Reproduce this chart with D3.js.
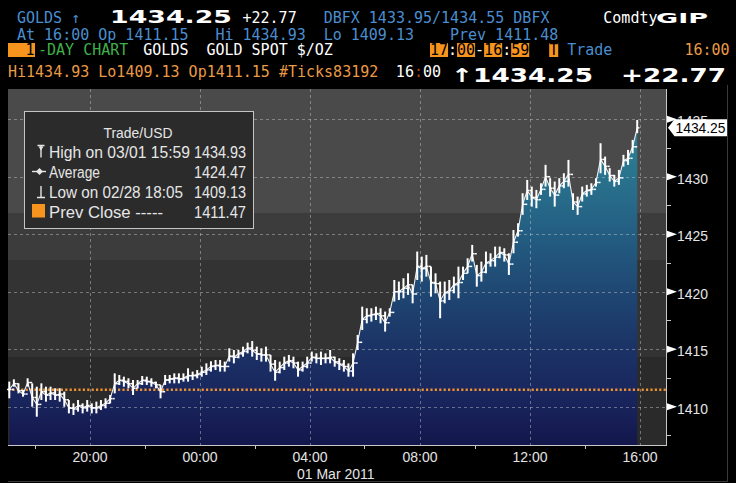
<!DOCTYPE html>
<html><head><meta charset="utf-8">
<script src="https://cdn.jsdelivr.net/npm/d3@7"></script>
<style>html,body{margin:0;padding:0;background:#000;overflow:hidden}svg{display:block}</style>
</head><body>
<svg id="c" width="736" height="483"></svg>
<script>
// ---------------- DATA ----------------
const barStart = "2011-02-28T17:00";
const barMinutes = 10;
const highs = [
1412.18,1412.38,1412.03,1411.45,1412.47,1412.03,1411.74,1412.03,1411.74,1411.74,
1411.60,1411.60,1411.31,1410.58,1410.29,1410.58,1410.29,1410.58,1410.29,1410.44,
1410.58,1410.73,1411.02,1412.90,1412.76,1412.61,1412.47,1412.32,1412.32,1412.67,
1412.61,1412.47,1412.18,1411.89,1412.76,1412.76,1412.90,1412.90,1412.90,1413.34,
1413.05,1413.19,1413.48,1413.77,1413.95,1414.06,1414.06,1413.92,1415.08,1414.93,
1414.93,1415.22,1415.57,1415.71,1415.22,1415.08,1415.22,1414.50,1414.06,1413.92,
1414.35,1414.50,1414.35,1413.92,1413.92,1414.35,1414.79,1414.64,1414.79,1414.64,
1414.93,1414.35,1414.21,1414.06,1413.77,1414.64,1416.24,1418.70,1418.56,1418.56,
1418.70,1418.56,1418.27,1418.56,1421.02,1420.88,1421.17,1421.60,1420.59,1423.49,
1423.05,1423.20,1422.18,1421.60,1420.88,1420.88,1421.02,1421.31,1422.18,1422.18,
1422.91,1424.07,1422.33,1422.62,1423.49,1423.34,1423.92,1423.92,1423.78,1423.34,
1425.37,1425.95,1428.56,1429.72,1429.14,1428.85,1429.43,1431.03,1429.87,1429.58,
1429.87,1430.30,1431.46,1428.56,1428.27,1429.14,1429.29,1429.43,1429.87,1432.91,
1431.75,1430.74,1430.16,1430.59,1431.90,1432.33,1433.20,1434.93];
const lows = [
1410.73,1411.74,1411.16,1410.87,1411.74,1410.00,1409.13,1410.58,1410.44,1410.58,
1410.58,1410.44,1410.00,1409.42,1409.28,1409.57,1409.42,1409.57,1409.42,1409.42,
1409.71,1409.86,1410.29,1411.16,1411.89,1411.74,1411.60,1411.02,1411.60,1411.89,
1411.89,1411.74,1411.60,1410.73,1411.89,1412.03,1412.03,1412.03,1412.18,1412.18,
1412.32,1412.47,1412.61,1412.76,1413.05,1413.19,1413.05,1413.05,1413.92,1413.77,
1414.21,1414.35,1414.64,1414.35,1414.06,1413.92,1413.92,1413.05,1412.26,1412.90,
1413.19,1413.48,1413.34,1412.61,1413.05,1413.34,1413.92,1413.77,1413.63,1413.77,
1413.77,1413.48,1413.19,1413.05,1412.61,1412.61,1414.93,1416.67,1417.25,1417.40,
1417.54,1417.25,1416.53,1417.83,1419.14,1419.28,1419.43,1419.72,1418.99,1421.02,
1420.88,1421.31,1419.57,1419.86,1417.69,1418.99,1419.28,1419.86,1419.43,1421.02,
1421.60,1422.62,1420.44,1420.88,1421.60,1422.18,1422.18,1422.91,1422.62,1421.46,
1423.34,1424.79,1426.68,1427.98,1427.40,1427.26,1428.42,1429.14,1428.27,1427.40,
1428.56,1429.00,1429.14,1427.11,1426.68,1427.84,1428.27,1428.42,1429.14,1430.30,
1430.16,1429.58,1429.14,1429.29,1430.88,1431.03,1432.04,1433.78];
const closes = [
1411.5,1412.0,1411.4,1411.1,1412.1,1410.8,1410.2,1411.3,1411.0,1411.2,
1411.0,1411.1,1410.6,1409.9,1409.8,1410.1,1409.9,1410.1,1409.9,1409.9,
1410.1,1410.3,1410.7,1412.0,1412.3,1412.2,1412.0,1411.6,1412.0,1412.3,
1412.2,1412.1,1411.9,1411.3,1412.3,1412.4,1412.5,1412.4,1412.5,1412.7,
1412.7,1412.8,1413.0,1413.2,1413.5,1413.6,1413.5,1413.5,1414.4,1414.3,
1414.6,1414.8,1415.1,1414.9,1414.6,1414.5,1414.5,1413.7,1413.0,1413.4,
1413.8,1414.0,1413.8,1413.2,1413.5,1413.8,1414.3,1414.2,1414.2,1414.2,
1414.3,1413.9,1413.7,1413.5,1413.1,1413.8,1415.6,1417.6,1417.9,1418.0,
1418.1,1417.9,1417.3,1418.2,1420.0,1420.0,1420.3,1420.6,1419.8,1422.2,
1422.0,1422.2,1420.8,1420.7,1419.2,1419.9,1420.1,1420.6,1420.8,1421.6,
1422.2,1423.3,1421.4,1421.7,1422.5,1422.7,1423.0,1423.4,1423.2,1422.4,
1424.3,1425.3,1427.6,1428.8,1428.2,1428.0,1428.9,1430.0,1429.0,1428.4,
1429.2,1429.6,1430.2,1427.8,1427.4,1428.5,1428.8,1428.9,1429.5,1431.5,
1430.9,1430.1,1429.6,1429.9,1431.4,1431.6,1432.6,1434.25];
const yTicks = [1410, 1415, 1420, 1425, 1430, 1435];
const yMinorTicks = [1407.5, 1412.5, 1417.5, 1422.5, 1427.5, 1432.5];
const xTickTimes = ["2011-02-28T20:00","2011-03-01T00:00","2011-03-01T04:00","2011-03-01T08:00","2011-03-01T12:00","2011-03-01T16:00"];
const xMinorTimes = ["2011-02-28T18:00","2011-02-28T22:00","2011-03-01T02:00","2011-03-01T06:00","2011-03-01T10:00","2011-03-01T14:00"];
const domainTimes = ["2011-02-28T17:00","2011-03-01T17:00"];
const dateLabel = "01 Mar 2011";
const prevClose = 1411.47;
const lastPrice = 1434.25;
const legendTitle = "Trade/USD";
const legendLabels = ["High on 03/01 15:59", "Average", "Low on 02/28 18:05", "Prev Close -----"];
const legendValues = ["1434.93", "1424.47", "1409.13", "1411.47"];

// ---------------- SETUP ----------------
const svg = d3.select("#c");
const W = 736, H = 483;
const P = {left: 8, right: 667, top: 89, bottom: 445};
const parse = d3.timeParse("%Y-%m-%dT%H:%M");
const t0 = parse(barStart);
const x = d3.scaleTime().domain(domainTimes.map(parse)).range([7, 667]);
const y = d3.scaleLinear().domain([1410, 1435]).range([406.7, 119.2]);

svg.append("rect").attr("width", W).attr("height", H).attr("fill", "#000");

const mono = "'DejaVu Sans Mono', monospace";
const sans = "'Liberation Sans', Arial, sans-serif";
function T(g, xp, yp, s, fill, o = {}) {
  const e = g.append("text").attr("x", xp).attr("y", yp).text(s).attr("fill", fill)
    .style("font-family", o.family || mono).style("font-size", (o.size || 15) + "px")
    .style("font-weight", o.weight || "normal");
  if (o.tl) e.attr("textLength", o.tl).attr("lengthAdjust", "spacingAndGlyphs");
  if (o.anchor) e.attr("text-anchor", o.anchor);
  return e;
}

// ---------------- HEADER ----------------
const BLUE = "#4a8ecf", ORANGE = "#f7941e", OTXT = "#eb9a45", GREEN = "#3fb04a", WHITE = "#ffffff";
const hd = svg.append("g");
const cw = 9.02;
const c1 = i => 17 + i * cw;   // rows 1-2 grid
const c3 = i => 8 + i * cw;    // rows 3-4 grid
// Row 1
T(hd, c1(0), 22.7, "GOLDS \u2191", BLUE);
T(hd, 110, 22.7, "1434.25", WHITE, {family: "'DejaVu Sans', sans-serif", weight: "bold", size: 17.5, tl: 122});
T(hd, c1(25), 22.7, "+22.77", WHITE);
T(hd, c1(34), 22.7, "DBFX 1433.95/1434.55 DBFX", BLUE);
T(hd, c1(65), 22.7, "Comdty", WHITE);
T(hd, 656, 22.7, "GIP", WHITE, {family: "'DejaVu Sans', sans-serif", weight: "bold", size: 14, tl: 52});
// Row 2
T(hd, c1(0), 40.3, "At 16:00 Op 1411.15", BLUE);
T(hd, c1(22), 40.3, "Hi 1434.93", BLUE);
T(hd, c1(34), 40.3, "Lo 1409.13", BLUE);
T(hd, c1(48), 40.3, "Prev 1411.48", BLUE);
// Row 3
hd.append("rect").attr("x", c3(0)).attr("y", 43).attr("width", 27).attr("height", 14).attr("fill", ORANGE);
T(hd, 25.5, 55, "1", "#000");
T(hd, 38, 55, "-DAY CHART", GREEN);
T(hd, c3(15), 55, "GOLDS", WHITE);
T(hd, c3(22), 55, "GOLD SPOT $/OZ", WHITE);
const tx0 = 430;
[[0, "17"], [3, "00"], [6, "16"], [9, "59"]].forEach(([k, s]) => {
  hd.append("rect").attr("x", tx0 + k * cw).attr("y", 43).attr("width", 2 * cw).attr("height", 14).attr("fill", ORANGE);
  T(hd, tx0 + k * cw, 55, s, "#000");
});
T(hd, tx0 + 2 * cw, 55, ":", WHITE);
T(hd, tx0 + 5 * cw, 55, "-", WHITE);
T(hd, tx0 + 8 * cw, 55, ":", WHITE);
hd.append("rect").attr("x", c3(60)).attr("y", 43).attr("width", cw).attr("height", 14).attr("fill", ORANGE);
T(hd, c3(60), 55, "T", "#000");
T(hd, c3(62), 55, "Trade", BLUE);
T(hd, c3(75), 55, "16:00", OTXT);
// Row 4
T(hd, c3(0), 77.3, "Hi1434.93 Lo1409.13 Op1411.15 #Ticks83192", OTXT);
T(hd, c3(43), 77.3, "16", WHITE);
T(hd, c3(45), 77.3, ":", "#a8401a");
T(hd, c3(46), 77.3, "00", WHITE);
T(hd, 451, 81.7, "\u21911434.25", WHITE, {family: "'DejaVu Sans', sans-serif", weight: "bold", size: 19, tl: 142});
T(hd, 621, 81.7, "+22.77", WHITE, {family: "'DejaVu Sans', sans-serif", weight: "bold", size: 19, tl: 105});

// ---------------- PLOT BACKGROUND ----------------
const bands = [[89, 213, "#4a4a4a"], [213, 260, "#3c3c3c"], [260, 357, "#333333"], [357, 445, "#2a2a2a"]];
svg.append("g").selectAll("rect").data(bands).join("rect")
  .attr("x", P.left).attr("width", P.right - P.left)
  .attr("y", d => d[0]).attr("height", d => d[1] - d[0]).attr("fill", d => d[2]);

// ---------------- AREA FILL ----------------
const defs = svg.append("defs");
const grad = defs.append("linearGradient").attr("id", "fillg")
  .attr("gradientUnits", "userSpaceOnUse").attr("x1", 0).attr("x2", 0).attr("y1", 445).attr("y2", 120);
[[0, "#13174b"], [0.12, "#18235b"], [0.3, "#1b3366"], [0.48, "#1f4873"], [0.66, "#245f83"], [0.84, "#29748e"], [1, "#2d8399"]]
  .forEach(([o, c]) => grad.append("stop").attr("offset", o).attr("stop-color", c));

const bars = highs.map((h, i) => ({
  t: d3.timeMinute.offset(t0, barMinutes * i + barMinutes / 2),
  hi: h, lo: lows[i], c: closes[i], o: i > 0 ? closes[i - 1] : closes[0]
}));

svg.append("path").datum(bars)
  .attr("d", d3.area().x(d => x(d.t)).y0(P.bottom).y1(d => y(d.c)))
  .attr("fill", "url(#fillg)");

// ---------------- GRID ----------------
const grid = svg.append("g").attr("stroke", "rgba(205,205,205,0.45)").attr("stroke-dasharray", "3,3").attr("stroke-width", 1);
grid.selectAll("line.h").data(yTicks).join("line").attr("class", "h")
  .attr("x1", P.left).attr("x2", P.right).attr("y1", d => Math.round(y(d)) + 0.5).attr("y2", d => Math.round(y(d)) + 0.5);
grid.selectAll("line.v").data(xTickTimes.map(parse)).join("line").attr("class", "v")
  .attr("x1", d => Math.round(x(d)) + 0.5).attr("x2", d => Math.round(x(d)) + 0.5).attr("y1", P.top).attr("y2", P.bottom + 3);

// prev close dotted line
svg.append("line").attr("x1", P.left).attr("x2", P.right)
  .attr("y1", y(prevClose)).attr("y2", y(prevClose))
  .attr("stroke", "#ee9030").attr("stroke-width", 2.4).attr("stroke-dasharray", "2.2,2.2");

// ---------------- BARS ----------------
svg.append("path").datum(bars)
  .attr("d", d3.line().x(d => x(d.t)).y(d => y(d.c)))
  .attr("fill", "none").attr("stroke", "#f0f0f0").attr("stroke-width", 1.1);
const bg = svg.append("g").attr("stroke", "#ffffff");
bg.selectAll("line.r").data(bars).join("line").attr("class", "r")
  .attr("x1", d => x(d.t)).attr("x2", d => x(d.t))
  .attr("y1", d => y(d.hi)).attr("y2", d => y(d.lo))
  .attr("stroke-width", 2);
bg.selectAll("line.c").data(bars).join("line").attr("class", "c")
  .attr("x1", d => x(d.t)).attr("x2", d => x(d.t) + 2.2)
  .attr("y1", d => y(d.c)).attr("y2", d => y(d.c)).attr("stroke-width", 1.5);
bg.selectAll("line.o").data(bars).join("line").attr("class", "o")
  .attr("x1", d => x(d.t) - 2.2).attr("x2", d => x(d.t))
  .attr("y1", d => y(d.o)).attr("y2", d => y(d.o)).attr("stroke-width", 1.5);

// ---------------- LEGEND ----------------
const lg = svg.append("g");
lg.append("rect").attr("x", 24.5).attr("y", 111.5).attr("width", 229).attr("height", 117)
  .attr("fill", "#2b2b2b").attr("stroke", "#c4c4c4").attr("stroke-width", 1);
const LCOL = "#e6e6e6";
T(lg, 138, 137.5, legendTitle, LCOL, {family: sans, size: 15.5, anchor: "middle", tl: 69});
const rowsY = [157.7, 177.7, 197.7, 217.7];
const labelTL = [141, 51, 134, 114];
legendLabels.forEach((s, i) => {
  T(lg, 49, rowsY[i], s, LCOL, {family: sans, size: 16, tl: labelTL[i]});
  T(lg, 246, rowsY[i], legendValues[i], LCOL, {family: sans, size: 16, anchor: "end", tl: 52});
});
lg.append("path").attr("d", "M37.5,145.5 H44.5 M41,145.5 V157.5").attr("stroke", LCOL).attr("stroke-width", 1.4).attr("fill", "none");
lg.append("path").attr("d", "M38.5,146.5 L43.5,146.5 L41,150.5 Z").attr("fill", LCOL);
lg.append("path").attr("d", "M32,171.5 H46").attr("stroke", LCOL).attr("stroke-width", 1.4);
lg.append("path").attr("d", "M36,171.5 L39.5,168 L43,171.5 L39.5,175 Z").attr("fill", LCOL);
lg.append("path").attr("d", "M41,186 V197.5 M37,197.5 H45").attr("stroke", LCOL).attr("stroke-width", 1.4).attr("fill", "none");
lg.append("rect").attr("x", 32).attr("y", 204).attr("width", 13).attr("height", 13.5).attr("fill", ORANGE);

// ---------------- AXES ----------------
const AX = "#c8c8c8", LBL = "#e4e4e4";
// right axis
const ya = svg.append("g").attr("transform", `translate(${P.right},0)`)
  .call(d3.axisRight(y).tickValues(yTicks).tickFormat(d3.format("d")).tickSize(0).tickPadding(10));
ya.select(".domain").remove();
ya.selectAll("text").attr("fill", LBL).attr("dy", "0.42em")
  .style("font-family", sans).style("font-size", "15.5px")
  .attr("textLength", 31).attr("lengthAdjust", "spacingAndGlyphs");
svg.append("line").attr("x1", P.right - 0.5).attr("x2", P.right - 0.5).attr("y1", P.top).attr("y2", P.bottom)
  .attr("stroke", AX).attr("stroke-width", 1);
svg.append("g").selectAll("path").data(yTicks).join("path")
  .attr("d", d => `M${P.right},${y(d) - 3.5} L${P.right + 10},${y(d)} L${P.right},${y(d) + 3.5} Z`)
  .attr("fill", "#ffffff");
svg.append("g").selectAll("line").data(yMinorTicks).join("line")
  .attr("x1", P.right).attr("x2", P.right + 4).attr("y1", d => Math.round(y(d)) + 0.5).attr("y2", d => Math.round(y(d)) + 0.5)
  .attr("stroke", AX);

// bottom axis
const xa = svg.append("g").attr("transform", `translate(0,${P.bottom})`)
  .call(d3.axisBottom(x).tickValues(xTickTimes.map(parse)).tickFormat(d3.timeFormat("%H:%M")).tickSize(0).tickPadding(7));
xa.select(".domain").remove();
xa.selectAll("text").attr("fill", LBL).style("font-family", sans).style("font-size", "14px");
svg.append("line").attr("x1", P.left).attr("x2", P.right).attr("y1", P.bottom + 0.5).attr("y2", P.bottom + 0.5)
  .attr("stroke", AX);
svg.append("g").selectAll("line").data(xMinorTimes.map(parse)).join("line")
  .attr("x1", d => Math.round(x(d)) + 0.5).attr("x2", d => Math.round(x(d)) + 0.5)
  .attr("y1", P.bottom).attr("y2", P.bottom + 4).attr("stroke", AX);
T(svg, 297, 479, dateLabel, LBL, {family: sans, size: 14});

// frame
svg.append("path").attr("d", `M727.5,85 V481.5 H${P.left}`).attr("stroke", "#3a3a3a").attr("fill", "none");

// ---------------- LAST PRICE LABEL ----------------
const ly = y(lastPrice);
svg.append("path")
  .attr("d", `M668,${ly} L674.5,${ly - 8.5} H727 V${ly + 8.5} H674.5 Z`)
  .attr("fill", "#ffffff");
T(svg, 675.5, ly + 5.5, "1434.25", "#000", {family: sans, size: 15, tl: 50});
</script>
</body></html>
